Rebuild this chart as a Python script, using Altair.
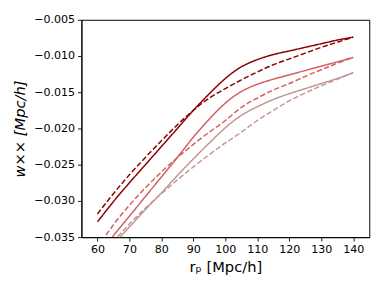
import altair as alt
import pandas as pd

x_vals = [60, 65, 70, 75, 80, 85, 90, 95, 100, 105, 110, 115, 120, 125, 130, 135, 140]

dark_solid = [-0.0329, -0.0301, -0.0275, -0.0250, -0.0225, -0.0200, -0.0175, -0.0152, -0.0131,
              -0.0115, -0.0105, -0.0098, -0.0093, -0.0088, -0.0083, -0.0078, -0.0074]
dark_dashed = [-0.0318, -0.0290, -0.0264, -0.0240, -0.0217, -0.0195, -0.0175, -0.0158, -0.0145,
               -0.0133, -0.0122, -0.0112, -0.0104, -0.0096, -0.0088, -0.0081, -0.0074]
mid_solid = [-0.0377, -0.0348, -0.0321, -0.0294, -0.0267, -0.0240, -0.0212, -0.0187, -0.0165,
             -0.0149, -0.0139, -0.0132, -0.0126, -0.0120, -0.0114, -0.0108, -0.0102]
mid_dashed = [-0.0365, -0.0333, -0.0306, -0.0282, -0.0260, -0.0240, -0.0222, -0.0205, -0.0189,
              -0.0171, -0.0158, -0.0147, -0.0138, -0.0128, -0.0119, -0.0110, -0.0102]
light_solid = [-0.0385, -0.0360, -0.0336, -0.0312, -0.0289, -0.0265, -0.0242, -0.0220, -0.0199,
               -0.0182, -0.0170, -0.0160, -0.0152, -0.0145, -0.0138, -0.0131, -0.0123]
light_dashed = [-0.0382, -0.0356, -0.0332, -0.0310, -0.0290, -0.0271, -0.0253, -0.0236, -0.0220,
                -0.0205, -0.0189, -0.0175, -0.0162, -0.0151, -0.0141, -0.0132, -0.0123]

series = [
    ("dark", "solid", dark_solid),
    ("dark", "dashed", dark_dashed),
    ("mid", "solid", mid_solid),
    ("mid", "dashed", mid_dashed),
    ("light", "solid", light_solid),
    ("light", "dashed", light_dashed),
]

rows = []
for grp, style, vals in series:
    for xv, yv in zip(x_vals, vals):
        rows.append({"rp": xv, "w": yv, "grp": grp, "style": style, "key": grp + "_" + style})
df = pd.DataFrame(rows)

font = "DejaVu Sans"

chart = alt.Chart(df).mark_line(clip=True, strokeWidth=1.5, interpolate="natural").encode(
    x=alt.X("rp:Q", scale=alt.Scale(domain=[55, 145], nice=False, zero=False),
            axis=alt.Axis(values=[60, 70, 80, 90, 100, 110, 120, 130, 140], title="rₚ [Mpc/h]",
                          grid=False, format="d")),
    y=alt.Y("w:Q", scale=alt.Scale(domain=[-0.035, -0.005], nice=False, zero=False),
            axis=alt.Axis(values=[-0.035, -0.030, -0.025, -0.020, -0.015, -0.010, -0.005],
                          title="w×× [Mpc/h]", grid=False, format=".3f", titleFontStyle="italic")),
    color=alt.Color("grp:N", scale=alt.Scale(domain=["dark", "mid", "light"],
                                             range=["#8b0000", "#d35f5f", "#c49595"]), legend=None),
    strokeDash=alt.StrokeDash("style:N", scale=alt.Scale(domain=["solid", "dashed"],
                                                        range=[[1, 0], [5.5, 2.4]]), legend=None),
    detail="key:N",
).properties(
    width=294, height=222,
    autosize=alt.AutoSizeParams(type="none"),
    padding={"left": 75, "top": 9, "right": 13, "bottom": 53},
).configure_view(
    stroke="black", strokeWidth=1
).configure_axis(
    domainColor="black", domainWidth=1, tickColor="black", tickWidth=0.9, tickSize=4,
    labelFont=font, labelFontSize=11.3, labelColor="black", labelPadding=3,
    titleFont=font, titleFontSize=15, titleColor="black", titleFontWeight="normal",
).configure_axisY(titlePadding=6).configure_axisX(titlePadding=5)

chart.save("out.html", embed_options={"renderer": "svg", "actions": False})
